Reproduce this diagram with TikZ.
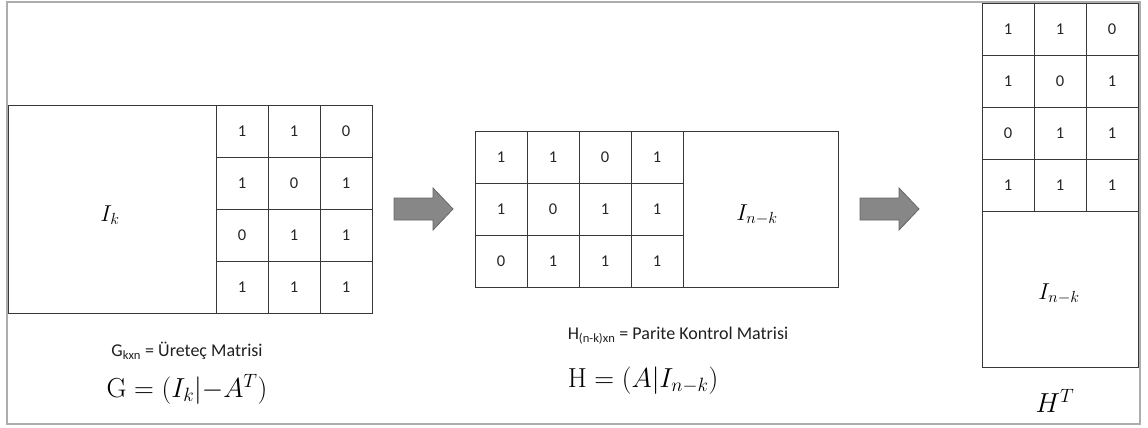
\RequirePackage{fix-cm}
\documentclass[tikz,border=0pt]{standalone}
\usepackage{fontspec}
\newfontfamily\calib{Carlito}
\begin{document}
\begin{tikzpicture}[x=1pt,y=-1pt,
  cell/.style={draw=black!78,line width=0.9pt,minimum width=52pt,minimum height=52pt,inner sep=0pt,font=\calib\fontsize{16.5}{18}\selectfont,text=black!85},
  bigbox/.style={draw=black!78,line width=0.9pt,inner sep=0pt},
  mlbl/.style={inner sep=0pt,font=\fontsize{23}{27}\selectfont},
  lbl/.style={inner sep=0pt,font=\calib\fontsize{18}{21}\selectfont,text=black!88},
  frm/.style={inner sep=0pt,font=\fontsize{27.5}{32}\selectfont,anchor=base},
  blockarrow/.style={fill=black!47,draw=black!60,line width=0.8pt,line join=miter}]
\useasboundingbox (0,0) rectangle (1148,428);
\draw[black!32,line width=1.8pt] (7,2) rectangle (1140,424);

% Left matrix G
\node[bigbox,minimum width=208pt,minimum height=208pt] (gI) at (112,209) {};
\node[mlbl] (gIl) at (110,215) {$I_k$};
\foreach \r/\a/\b/\c [count=\i from 0] in {1/1/1/0,2/1/0/1,3/0/1/1,4/1/1/1}{
  \node[cell] (g\r a) at (242,131+52*\i) {\a};
  \node[cell] (g\r b) at (294,131+52*\i) {\b};
  \node[cell] (g\r c) at (346,131+52*\i) {\c};
}

% Middle matrix H
\foreach \r/\a/\b/\c/\d [count=\i from 0] in {1/1/1/0/1,2/1/0/1/1,3/0/1/1/1}{
  \node[cell] (h\r a) at (501,157+52*\i) {\a};
  \node[cell] (h\r b) at (553,157+52*\i) {\b};
  \node[cell] (h\r c) at (605,157+52*\i) {\c};
  \node[cell] (h\r d) at (657,157+52*\i) {\d};
}
\node[bigbox,minimum width=155pt,minimum height=156pt] (hI) at (760.5,209) {};
\node[mlbl] (hIl) at (757,215) {$I_{n-k}$};

% Right matrix H^T
\foreach \r/\a/\b/\c [count=\i from 0] in {1/1/1/0,2/1/0/1,3/0/1/1,4/1/1/1}{
  \node[cell] (t\r a) at (1008,29+52*\i) {\a};
  \node[cell] (t\r b) at (1060,29+52*\i) {\b};
  \node[cell] (t\r c) at (1112,29+52*\i) {\c};
}
\node[bigbox,minimum width=156pt,minimum height=156pt] (tI) at (1060,289) {};
\node[mlbl] (tIl) at (1059,294) {$I_{n-k}$};

% Block arrows
\draw[blockarrow] (394,198) -- (433,198) -- (433,188) -- (453,209) -- (433,230) -- (433,220) -- (394,220) -- cycle;
\draw[blockarrow] (860,198) -- (899,198) -- (899,188) -- (919,209) -- (899,230) -- (899,220) -- (860,220) -- cycle;

% Labels
\node[lbl] (glab) at (187,351) {G\textsubscript{kxn} = Üreteç Matrisi};
\node[frm] (gform) at (187,397) {$\mathrm{G}=(I_k|{-A^T})$};
\node[lbl] (hlab) at (678,336) {H\textsubscript{(n-k)xn} = Parite Kontrol Matrisi};
\node[frm] (hform) at (643,387) {$\mathrm{H}=(A|I_{n-k})$};
\node[frm] (tform) at (1055,412) {$H^T$};
\end{tikzpicture}
\end{document}
